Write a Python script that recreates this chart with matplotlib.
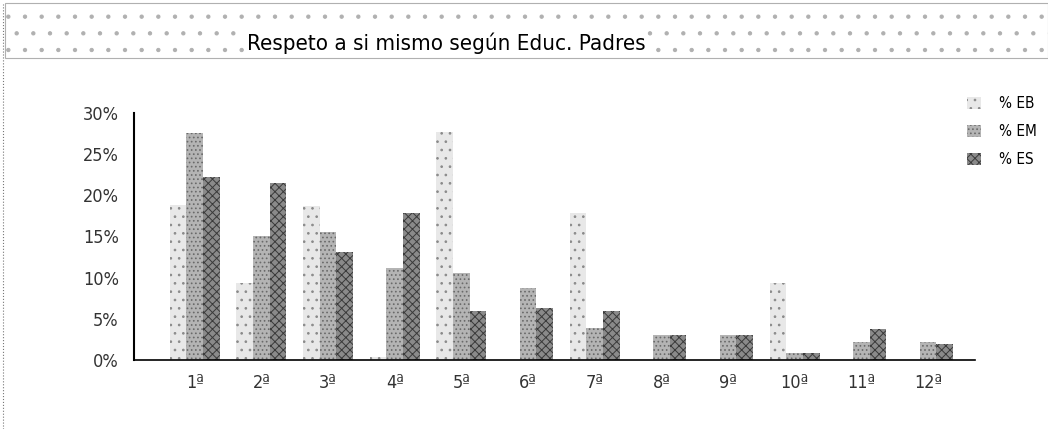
import numpy as np
import matplotlib.pyplot as plt
from matplotlib.patches import Rectangle
from matplotlib.ticker import PercentFormatter

categories = ["1ª", "2ª", "3ª", "4ª", "5ª", "6ª", "7ª", "8ª", "9ª", "10ª", "11ª", "12ª"]
eb = [18.8, 9.3, 18.7, 0.3, 27.7, 0.0, 17.8, 0.0, 0.0, 9.3, 0.0, 0.0]
em = [27.6, 15.1, 15.5, 11.2, 10.6, 8.7, 3.9, 3.0, 3.0, 0.8, 2.2, 2.2]
es = [22.2, 21.5, 13.1, 17.8, 6.0, 6.3, 6.0, 3.0, 3.0, 0.8, 3.7, 1.9]
series = ["% EB", "% EM", "% ES"]

plt.rcParams["font.family"] = ["DejaVu Sans"]
plt.rcParams["font.stretch"] = "condensed"
plt.rcParams["hatch.linewidth"] = 0.7

fig = plt.figure(figsize=(10.48, 4.29), dpi=100)
ax = fig.add_axes([0.128, 0.161, 0.802, 0.576])

# speckled title band
band = Rectangle((0.005, 0.865), 0.995, 0.128, transform=fig.transFigure,
                 facecolor="white", edgecolor="#b0b0b0", hatch=".", linewidth=0.8)
fig.patches.append(band)
fig.add_artist(plt.Line2D([0.003, 0.003], [0.0, 0.99], transform=fig.transFigure,
                          color="#777777", linestyle=":", linewidth=0.8))
fig.text(0.426, 0.90, "Respeto a si mismo según Educ. Padres", ha="center", va="center",
         fontsize=16, color="black",
         bbox=dict(facecolor="white", edgecolor="none", pad=1))

x = np.arange(len(categories))
w = 0.25
styles = [
    dict(facecolor="#e8e8e8", edgecolor="#8a8a8a", hatch=".."),
    dict(facecolor="#b4b4b4", edgecolor="#6a6a6a", hatch="...."),
    dict(facecolor="#8a8a8a", edgecolor="#3a3a3a", hatch="xxxx"),
]
for i, (vals, name) in enumerate(zip([eb, em, es], series)):
    ax.bar(x + (i - 1) * w, np.array(vals) / 100, width=w, label=name,
           linewidth=0, **styles[i])

ax.set_xlim(-0.91, 11.7)
ax.set_ylim(0, 0.30)
ax.set_yticks(np.arange(0, 0.31, 0.05))
ax.yaxis.set_major_formatter(PercentFormatter(1.0, decimals=0))
ax.set_xticks(x)
ax.set_xticklabels(categories)
ax.tick_params(axis="both", length=0, labelsize=13, colors="#333333")
ax.tick_params(axis="y", pad=11)
ax.tick_params(axis="x", pad=10)
for s in ["top", "right"]:
    ax.spines[s].set_visible(False)
ax.spines["left"].set_linewidth(1.5)
ax.spines["bottom"].set_linewidth(1.2)

ax.legend(loc="upper left", bbox_to_anchor=(0.975, 1.122), frameon=False,
          fontsize=11, handlelength=0.9, handleheight=0.9, labelspacing=0.85,
          handletextpad=1.2)

fig.savefig("out.png", dpi=100, facecolor="white")
